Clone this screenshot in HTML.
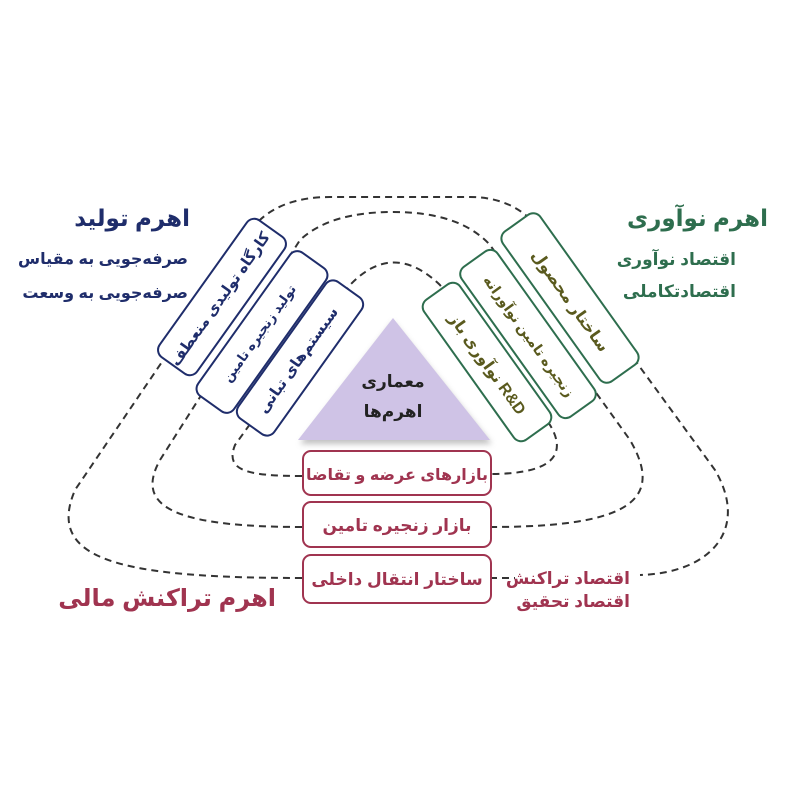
<!DOCTYPE html>
<html><head><meta charset="utf-8">
<style>
html,body{margin:0;padding:0;background:#fff;}
svg{display:block;}
text{font-family:"Liberation Sans","DejaVu Sans",sans-serif;font-weight:bold;direction:rtl;unicode-bidi:embed;}
</style></head>
<body>
<svg width="800" height="800" viewBox="0 0 800 800" xmlns="http://www.w3.org/2000/svg">
<defs>
<filter id="sh" x="-20%" y="-20%" width="140%" height="140%"><feGaussianBlur stdDeviation="3"/></filter>
</defs>
<rect width="800" height="800" fill="#fff"/>
<g fill="none" stroke="#333" stroke-width="2" stroke-dasharray="7,5">
<path d="M302 476 C245 476 225 470 235 445 L350 285 Q393 240 440 285 L550 425 C565 450 560 474 490 474"/>
<path d="M302 527 C170 527 135 505 160 460 L300 240 Q330 212 393 212 Q460 212 490 245 L630 440 C665 500 630 527 490 527"/>
<path d="M302 578 C120 578 45 560 75 490 L255 225 Q280 197 330 197 L470 197 Q515 197 540 230 L715 470 C750 530 710 573 640 575"/>
<path d="M490 578 L515 578"/>
</g>
<polygon points="300,444 393,322 492,444" fill="#999" opacity="0.6" filter="url(#sh)"/>
<polygon points="298,440 393,318 490,440" fill="#cfc3e6"/>
<text x="393" y="387" font-size="17" text-anchor="middle" fill="#222">معماری</text>
<text x="393" y="417" font-size="17" text-anchor="middle" fill="#222">اهرم‌ها</text>
<g fill="#fff" stroke="#1f2d6b" stroke-width="2">
<rect x="-84" y="-23" width="168" height="46" rx="9" transform="translate(222,297) rotate(-54.5)"/>
<rect x="-88" y="-22" width="176" height="44" rx="9" transform="translate(262,332) rotate(-54.5)"/>
<rect x="-84" y="-22" width="168" height="44" rx="9" transform="translate(300,358) rotate(-54.5)"/>
</g>
<g fill="#1f2d6b" text-anchor="middle">
<text font-size="15" transform="translate(224,302) rotate(-54.5)">کارگاه تولیدی منعطف</text>
<text font-size="13" transform="translate(263,336) rotate(-54.5)">تولید زنجیره تامین</text>
<text font-size="15" transform="translate(302,363) rotate(-54.5)">سیستم‌های تبانی</text>
</g>
<g fill="#fff" stroke="#2e6e4e" stroke-width="2">
<rect x="-92" y="-23" width="184" height="46" rx="9" transform="translate(570,298) rotate(54.5)"/>
<rect x="-92" y="-22" width="184" height="44" rx="9" transform="translate(528,334) rotate(54.5)"/>
<rect x="-86" y="-22" width="172" height="44" rx="9" transform="translate(487,362) rotate(54.5)"/>
</g>
<g fill="#5a5a1e" text-anchor="middle">
<text font-size="16" transform="translate(566,304) rotate(54.5)">ساختار محصول</text>
<text font-size="14" transform="translate(525,339) rotate(54.5)">زنجیره تامین نوآورانه</text>
<text font-size="16" transform="translate(483,367) rotate(54.5)">R&amp;D نوآوری باز</text>
</g>
<g fill="#fff" stroke="#a03450" stroke-width="2">
<rect x="303" y="451" width="188" height="44" rx="8"/>
<rect x="303" y="502" width="188" height="45" rx="8"/>
<rect x="303" y="555" width="188" height="48" rx="8"/>
</g>
<g fill="#a03450" font-size="16" text-anchor="middle">
<text x="397" y="480">بازارهای عرضه و تقاضا</text>
<text x="397" y="531" font-size="17">بازار زنجیره تامین</text>
<text x="397" y="585" font-size="17">ساختار انتقال داخلی</text>
</g>
<g fill="#1f2d6b" text-anchor="start">
<text x="190" y="226" font-size="23">اهرم تولید</text>
<text x="188" y="264" font-size="16">صرفه‌جویی به مقیاس</text>
<text x="188" y="298" font-size="16">صرفه‌جویی به وسعت</text>
</g>
<g fill="#2e6e4e" text-anchor="start">
<text x="768" y="226" font-size="23">اهرم نوآوری</text>
<text x="736" y="265" font-size="17">اقتصاد نوآوری</text>
<text x="736" y="297" font-size="17">اقتصادتکاملی</text>
</g>
<text x="276" y="606" font-size="24" text-anchor="start" fill="#a03450">اهرم تراکنش مالی</text>
<g fill="#a03450" font-size="17" text-anchor="start">
<text x="630" y="584">اقتصاد تراکنش</text>
<text x="630" y="607">اقتصاد تحقیق</text>
</g>
</svg>
</body></html>
